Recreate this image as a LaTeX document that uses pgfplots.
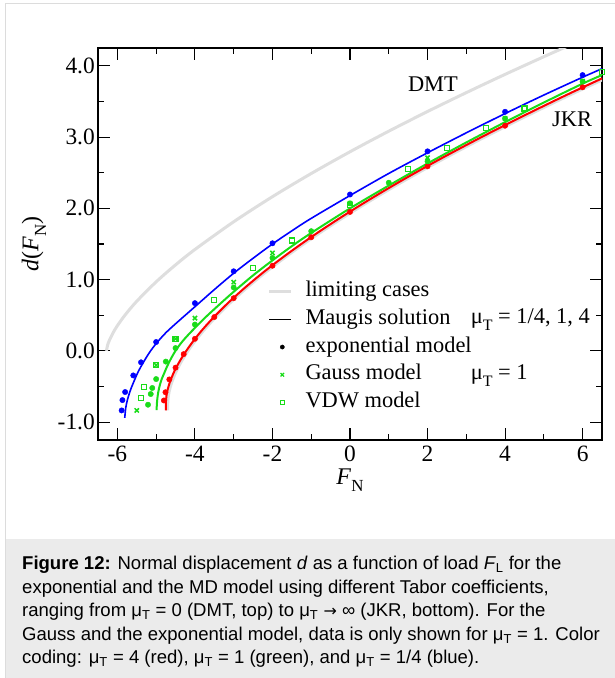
\documentclass[border=0pt]{standalone}
\usepackage{pgfplots}
\pgfplotsset{compat=1.18}
\usepackage{fontspec}
\setmainfont{Liberation Serif}
\newfontfamily\capfont{Liberation Sans}
\newfontfamily\arrowfont{DejaVu Sans}
\definecolor{myblue}{RGB}{0,0,255}
\definecolor{myred}{RGB}{255,0,0}
\definecolor{mygreen}{RGB}{25,220,25}
\definecolor{limgray}{RGB}{222,222,222}
\definecolor{capgray}{RGB}{235,235,235}
\definecolor{framegray}{RGB}{220,220,220}
\newcommand\subN{\raisebox{-0.32em}{\fontsize{17}{17}\selectfont N}}
\newcommand\subT{\raisebox{-0.32em}{\fontsize{16}{16}\selectfont T}}
\pgfplotsset{
  myline legend/.style={legend image code/.code={\draw[##1] (0bp,0bp) -- (22bp,0bp);}},
  mymark legend/.style={legend image code/.code={\path[draw=none, fill=none] (0bp,0bp) -- (22bp,0bp); \path[##1, only marks] plot coordinates {(13bp,0bp)};}},
}
\begin{document}
\begin{tikzpicture}
\useasboundingbox (0,0) rectangle (615bp,-678bp);
\fill[capgray] (5bp,-539bp) rectangle (620bp,-690bp);
\draw[framegray, line width=1bp] (5.5bp,-690bp) -- (5.5bp,-3.5bp) -- (620bp,-3.5bp);
\begin{axis}[
  at={(98bp,-440bp)}, anchor=south west,
  width=504bp, height=392bp, scale only axis,
  xmin=-6.5, xmax=6.5, ymin=-1.25, ymax=4.25,
  xtick={-6,-4,...,6}, minor xtick={-5,-3,...,5},
  ytick={-1,0,...,4}, minor ytick={-0.5,0.5,...,3.5},
  tick align=inside, major tick length=12bp, minor tick length=6bp,
  tick style={black, line width=1.1bp},
  axis line style={line width=1.1bp},
  clip mode=individual,
  /pgf/number format/assume math mode=true,
  every tick label/.append style={font=\fontsize{23.5}{23.5}\selectfont},
  y tick label style={/pgf/number format/fixed, /pgf/number format/fixed zerofill, /pgf/number format/precision=1, anchor=east, inner sep=0pt, xshift=-3bp},
  x tick label style={anchor=base, inner sep=0pt, yshift=-21.5bp},
  xlabel={\textit{F}\subN},
  ylabel={\textit{d}(\textit{F}\subN)},
  xlabel style={at={(axis description cs:0.5,0)}, anchor=base, inner sep=0pt, yshift=-44bp, font=\fontsize{24}{24}\selectfont},
  ylabel style={at={(axis description cs:0,0.5)}, anchor=center, inner sep=0pt, yshift=64bp, font=\fontsize{24}{24}\selectfont},
  legend cell align=left,
  legend style={draw=none, fill=none, inner sep=0pt, outer sep=0pt,
    at={(axis cs:-2.12,0.972)}, anchor=north west,
    font=\fontsize{22.5}{22.5}\selectfont,
    nodes={inner sep=0pt, text height=15bp, text depth=5bp},
    row sep=7.7bp, column sep=12.7bp},
]
% legend images
\addlegendimage{limgray, line width=3bp, myline legend}
\addlegendimage{black, line width=1.1bp, myline legend}
\addlegendimage{only marks, mark=*, black, mark size=2.1bp, mymark legend}
\addlegendimage{only marks, mark=x, mygreen, mark size=2.5bp, line width=1.3bp, mymark legend}
\addlegendimage{only marks, mark=square, mygreen, mark size=2.2bp, line width=1.2bp, mymark legend}
\legend{limiting cases, Maugis solution, exponential model, Gauss model, VDW model}

% DMT limiting case
\addplot[limgray, line width=3bp, smooth] coordinates {
(-6.2832,0) (-6.25,0.085) (-6.2,0.156) (-6.1,0.265) (-6.0,0.354) (-5.8,0.505)
(-5.5,0.697) (-5.0,0.969) (-4.5,1.207) (-4.0,1.423) (-3,1.812) (-2,2.164)
(-1,2.489) (0,2.794) (1,3.083) (2,3.359) (3,3.624) (4,3.880) (5,4.128) (5.5,4.249) (6,4.368)};
% JKR limiting case
\addplot[limgray, line width=3.5bp, smooth] coordinates {
(-4.707,-0.834) (-4.712,-0.769) (-4.687,-0.614) (-4.618,-0.463) (-4.504,-0.3025)
(-4.341,-0.132) (-4.127,0.049) (-3.859,0.2395) (-3.534,0.44) (-3.151,0.650)
(-2.706,0.870) (-2.198,1.100) (-1.622,1.339) (-0.978,1.588) (-0.262,1.846)
(0.528,2.114) (1.395,2.392) (2.340,2.679) (3.367,2.975) (4.478,3.281) (5.676,3.597) (6.962,3.921)};
% Maugis mu=1/4 (blue)
\addplot[myblue, line width=1.6bp, smooth] coordinates {
(-5.81,-0.94) (-5.785,-0.80) (-5.74,-0.685) (-5.67,-0.56) (-5.59,-0.45) (-5.47,-0.30)
(-5.34,-0.17) (-5.17,-0.02) (-4.99,0.11) (-4.75,0.255) (-4.48,0.39) (-4.0,0.62)
(-3.5,0.86) (-3,1.09) (-2.5,1.30) (-2,1.50) (-1.5,1.685) (-1,1.86) (0,2.18) (1,2.49)
(2,2.78) (3,3.06) (4,3.33) (5,3.59) (6,3.84) (6.5,3.96)};
% Maugis mu=1 (green)
\addplot[mygreen, line width=2bp, smooth] coordinates {
(-4.99,-0.83) (-4.975,-0.70) (-4.95,-0.59) (-4.91,-0.49) (-4.86,-0.40) (-4.79,-0.31)
(-4.72,-0.22) (-4.61,-0.10) (-4.48,0.02) (-4.32,0.135) (-4.13,0.25) (-3.75,0.46)
(-3.27,0.70) (-3,0.83) (-2.5,1.06) (-2,1.27) (-1.5,1.47) (-1,1.655) (0,2.00) (1,2.32)
(2,2.63) (3,2.925) (4,3.21) (5,3.485) (6,3.75) (6.5,3.87)};
% Maugis mu=4 (red)
\addplot[myred, line width=2bp, smooth] coordinates {
(-4.75,-0.834) (-4.752,-0.75) (-4.725,-0.595) (-4.65,-0.445) (-4.53,-0.285)
(-4.36,-0.115) (-4.14,0.066) (-3.87,0.257) (-3.54,0.458) (-3.155,0.668)
(-2.708,0.888) (-2.2,1.118) (-1.623,1.357) (-0.978,1.606) (-0.262,1.864)
(0.528,2.132) (1.395,2.41) (2.34,2.697) (3.367,2.993) (4.478,3.299) (5.676,3.615) (6.962,3.939)};
% exponential model, blue
\addplot[only marks, mark=*, myblue, mark size=2.7bp] coordinates {
(-5.89,-0.835) (-5.87,-0.69) (-5.80,-0.577) (-5.59,-0.344) (-5.39,-0.16) (-5.0,0.125)
(-4.0,0.67) (-3,1.117) (-2,1.51) (0,2.195) (2,2.80) (4,3.355) (6,3.87)};
% exponential model, red
\addplot[only marks, mark=*, myred, mark size=2.7bp] coordinates {
(-4.80,-0.695) (-4.76,-0.58) (-4.66,-0.40) (-4.50,-0.235) (-4.29,-0.045) (-4.0,0.17)
(-3.5,0.475) (-3,0.74) (-2,1.195) (-1,1.595) (0,1.95) (2,2.59) (4,3.16) (6,3.70)};
% exponential model, green
\addplot[only marks, mark=*, mygreen, mark size=2.7bp] coordinates {
(-5.21,-0.755) (-5.14,-0.605) (-5.10,-0.52) (-5.0,-0.395) (-4.75,-0.15) (-4.5,0.04)
(-4.0,0.37) (-3,0.89) (-2,1.305) (-1,1.68) (0,2.07) (1,2.36) (2,2.66) (4,3.26) (6,3.78)};
% Gauss model, green
\addplot[only marks, mark=x, mygreen, mark size=3bp, line width=1.5bp] coordinates {
(-5.5,-0.835) (-5,-0.2) (-4.5,0.17) (-4,0.46) (-3,0.965) (-2,1.375) (0,2.07)
(2,2.71) (4,3.26) (6,3.785)};
% VDW model, green
\addplot[only marks, mark=square, mygreen, mark size=2.5bp, line width=1.2bp] coordinates {
(-5.39,-0.657) (-5.31,-0.51) (-5.0,-0.195) (-4.5,0.167) (-3.5,0.715) (-2.5,1.164)
(-1.5,1.55) (0,2.05) (1.5,2.55) (2.5,2.845) (3.5,3.125) (4.5,3.40) (6.5,3.91)};

\node[anchor=base, font=\fontsize{22.5}{22.5}\selectfont] at (axis cs:2.14,3.64) {DMT};
\node[anchor=base, font=\fontsize{22.5}{22.5}\selectfont] at (axis cs:5.73,3.15) {JKR};
\node[anchor=base west, inner sep=0pt, font=\fontsize{22.5}{22.5}\selectfont] at (axis cs:3.11,0.382) {μ\subT\ = 1/4, 1, 4};
\node[anchor=base west, inner sep=0pt, font=\fontsize{22.5}{22.5}\selectfont] at (axis cs:3.11,-0.404) {μ\subT\ = 1};
\end{axis}
\begin{scope}[every node/.style={anchor=base west, inner sep=0pt, font=\capfont\fontsize{18.6}{23.5}\selectfont}]
\node at (22bp,-569.5bp) {\textbf{Figure 12:} Normal displacement \textit{d} as a function of load \textit{F}\textsubscript{L} for the};
\node at (22bp,-593bp) {exponential and the MD model using different Tabor coefficients,};
\node at (22bp,-616.5bp) {ranging from μ\textsubscript{T} = 0 (DMT, top) to μ\textsubscript{T} {\arrowfont\fontsize{16}{16}\selectfont →} ∞ (JKR, bottom). For the};
\node at (22bp,-640bp) {Gauss and the exponential model, data is only shown for μ\textsubscript{T} = 1. Color};
\node at (22bp,-663.5bp) {coding: μ\textsubscript{T} = 4 (red), μ\textsubscript{T} = 1 (green), and μ\textsubscript{T} = 1/4 (blue).};
\end{scope}
\end{tikzpicture}
\end{document}
